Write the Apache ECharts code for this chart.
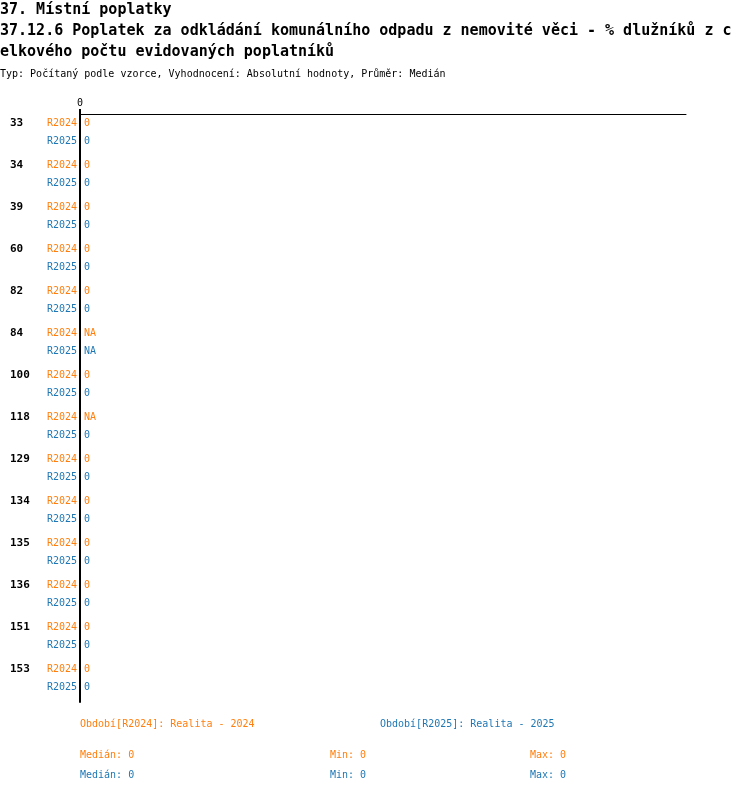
<!DOCTYPE html>
<html>
<head>
<meta charset="utf-8">
<script src="https://cdn.jsdelivr.net/npm/echarts@6/dist/echarts.min.js"></script>
<style>
    html, body { margin: 0; padding: 0; background: #fff; }
    #chart { width: 750px; height: 792px; }
</style>
</head>
<body>
<div id="chart"></div>
<script>
// data
const groups = ['33', '34', '39', '60', '82', '84', '100', '118', '129', '134', '135', '136', '151', '153'];
const periods = ['R2024', 'R2025'];
const r2024 = [0, 0, 0, 0, 0, null, 0, null, 0, 0, 0, 0, 0, 0];
const r2025 = [0, 0, 0, 0, 0, null, 0, 0, 0, 0, 0, 0, 0, 0];
const periodNames = ['Období[R2024]: Realita - 2024', 'Období[R2025]: Realita - 2025'];
const medians = [0, 0];
const mins = [0, 0];
const maxs = [0, 0];

const colors = ['#ff7f0e', '#1f77b4'];
const font = '"DejaVu Sans Mono", "Liberation Mono", monospace';

// 每组7个槽位: 空, R2024, 空, 空, R2025, 空, 空
const SLOTS = 7;
const POS = [1, 4];

let periodCats = [];
let groupCats = [];
let seriesData = [[], []];
groups.forEach((g, gi) => {
    for (let s = 0; s < SLOTS; s++) {
        let p = POS.indexOf(s);
        periodCats.push(p >= 0 ? periods[p] : '');
        groupCats.push(s === POS[0] ? g : '');
        seriesData[0].push(s === POS[0] ? (r2024[gi] === null ? 0 : r2024[gi]) : '-');
        seriesData[1].push(s === POS[1] ? (r2025[gi] === null ? 0 : r2025[gi]) : '-');
    }
});
const rawValues = [r2024, r2025];

let myChart = echarts.init(document.getElementById('chart'), null, { renderer: 'canvas' });

let option = {
    animation: false,
    backgroundColor: '#fff',
    textStyle: { fontFamily: font },
    title: [
        {
            text: '37. Místní poplatky\n37.12.6 Poplatek za odkládání komunálního odpadu z nemovité věci - % dlužníků z c\nelkového počtu evidovaných poplatníků',
            left: -5,
            top: -5,
            textStyle: {
                fontFamily: font,
                fontSize: 15,
                fontWeight: 'bold',
                color: '#000',
                lineHeight: 21
            }
        },
        {
            text: 'Typ: Počítaný podle vzorce, Vyhodnocení: Absolutní hodnoty, Průměr: Medián',
            left: -5,
            top: 64,
            textStyle: {
                fontFamily: font,
                fontSize: 10,
                fontWeight: 'normal',
                color: '#000'
            }
        }
    ],
    legend: periods.map((p, i) => ({
        data: [p],
        left: i === 0 ? 70 : 370,
        top: 714,
        itemWidth: 0,
        itemHeight: 10,
        icon: 'rect',
        formatter: () => periodNames[i],
        selectedMode: false,
        textStyle: { fontFamily: font, fontSize: 10, color: colors[i] }
    })),
    grid: {
        left: 80,
        top: 114,
        right: 64,
        bottom: 90
    },
    xAxis: {
        type: 'value',
        position: 'top',
        min: 0,
        max: 1,
        axisLine: { show: true, lineStyle: { color: '#000', width: 1 } },
        axisTick: { show: true, customValues: [0], length: 5, lineStyle: { color: '#000', width: 2 } },
        axisLabel: { customValues: [0], margin: 6, fontFamily: font, fontSize: 10, color: '#000' },
        splitLine: { show: false }
    },
    yAxis: [
        {
            type: 'category',
            inverse: true,
            data: periodCats,
            axisLine: { show: true, lineStyle: { color: '#000', width: 2 } },
            axisTick: { show: false },
            axisLabel: {
                interval: 0,
                margin: 3,
                fontFamily: font,
                fontSize: 10,
                formatter: (v) => v === periods[0] ? '{a|' + v + '}' : (v ? '{b|' + v + '}' : ''),
                rich: {
                    a: { color: colors[0], fontFamily: font, fontSize: 10 },
                    b: { color: colors[1], fontFamily: font, fontSize: 10 }
                }
            }
        },
        {
            type: 'category',
            inverse: true,
            position: 'left',
            data: groupCats,
            axisLine: { show: false },
            axisTick: { show: false },
            axisLabel: {
                interval: 0,
                margin: 70,
                align: 'left',
                fontFamily: font,
                fontSize: 11,
                fontWeight: 'bold',
                color: '#000'
            }
        }
    ],
    series: periods.map((p, i) => ({
        name: p,
        type: 'bar',
        yAxisIndex: 0,
        barGap: '-100%',
        barWidth: 6,
        data: seriesData[i],
        itemStyle: { color: colors[i] },
        label: {
            show: true,
            position: 'right',
            distance: 4,
            fontFamily: font,
            fontSize: 10,
            color: colors[i],
            formatter: (params) => {
                let v = rawValues[i][Math.floor(params.dataIndex / SLOTS)];
                return v === null ? 'NA' : String(v);
            }
        }
    })),
    graphic: periods.map((p, i) => [
        { left: 80, text: 'Medián: ' + medians[i] },
        { left: 330, text: 'Min: ' + mins[i] },
        { left: 530, text: 'Max: ' + maxs[i] }
    ].map((t) => ({
        type: 'text',
        left: t.left,
        top: 750 + i * 20,
        style: {
            text: t.text,
            fill: colors[i],
            font: '10px ' + font
        }
    }))).flat()
};

myChart.setOption(option);
</script>
</body>
</html>
